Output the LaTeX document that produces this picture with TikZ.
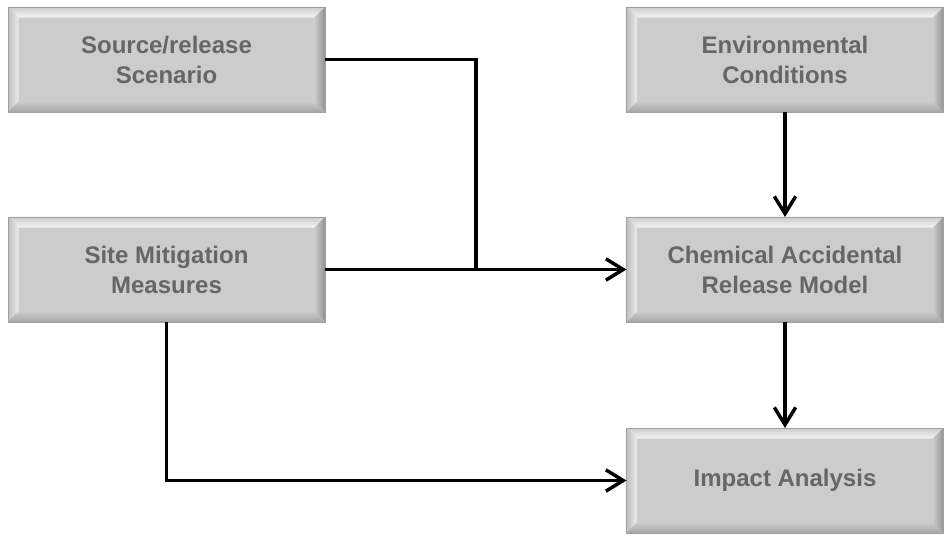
\documentclass[tikz,border=0pt]{standalone}
\usepackage{fontspec}
\setmainfont{Liberation Sans}
\usetikzlibrary{arrows.meta,positioning,calc}
\definecolor{faceC}{RGB}{204,204,204}
\definecolor{textC}{RGB}{102,102,102}
\definecolor{edgeC}{RGB}{160,160,160}
\def\bev{8pt}
\tikzset{
  blockbox/.style={draw=edgeC,line width=0.5pt,fill=faceC,inner sep=0pt,outer sep=0pt,
    minimum width=237.75pt,minimum height=78.75pt,align=center,text=textC,
    font=\fontsize{18}{22.5}\selectfont\bfseries,
    path picture={
      \coordinate (bnw) at (path picture bounding box.north west);
      \coordinate (bne) at (path picture bounding box.north east);
      \coordinate (bsw) at (path picture bounding box.south west);
      \coordinate (bse) at (path picture bounding box.south east);
      % bevel faces
      \shade[top color=gray!40,bottom color=gray!8] (bnw) -- (bne) -- ($(bne)+(-\bev,-\bev)$) -- ($(bnw)+(\bev,-\bev)$) -- cycle;
      \shade[left color=gray!50,right color=gray!15] (bnw) -- ($(bnw)+(\bev,-\bev)$) -- ($(bsw)+(\bev,\bev)$) -- (bsw) -- cycle;
      \shade[left color=gray!40,right color=gray!85] (bne) -- ($(bne)+(-\bev,-\bev)$) -- ($(bse)+(-\bev,\bev)$) -- (bse) -- cycle;
      \shade[top color=gray!40,bottom color=gray!70] (bsw) -- ($(bsw)+(\bev,\bev)$) -- ($(bse)+(-\bev,\bev)$) -- (bse) -- cycle;
    }},
  link/.style={line width=2.6pt},
}
\begin{document}
\begin{tikzpicture}[x=0.75pt,y=-0.75pt,>={Straight Barb[length=13pt,width=16pt]}]
  \useasboundingbox (0,0) rectangle (945,541);
  \node[blockbox] (src)  at (166.5,59.5)  {Source/release\\Scenario};
  \node[blockbox] (env)  at (785,59.5)    {Environmental\\Conditions};
  \node[blockbox] (site) at (166.5,269.5) {Site Mitigation\\Measures};
  \node[blockbox] (carm) at (785,269.5)   {Chemical Accidental\\Release Model};
  \node[blockbox] (imp)  at (785,480.5)   {Impact Analysis};
  \coordinate (jn) at (476,269.5);
  % connectors
  \draw[link] (src.east) -| (jn);
  \draw[link,->] (site.east) -- (carm.west);
  \draw[link,->] (env.south) -- (carm.north);
  \draw[link,->] (carm.south) -- (imp.north);
  \draw[link,->] (site.south) |- (imp.west);
\end{tikzpicture}
\end{document}
